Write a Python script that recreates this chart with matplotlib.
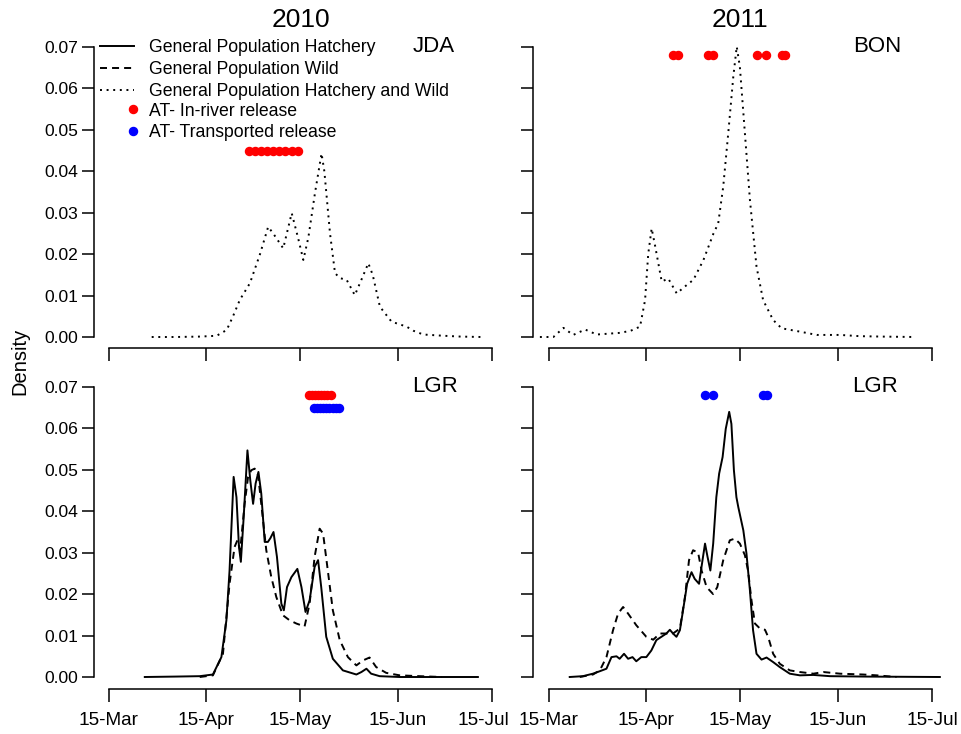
"""
Плотность распределения времени прохода: 2010 (JDA, LGR) и 2011 (BON, LGR)
"""

import matplotlib
matplotlib.use("Agg")
import matplotlib.pyplot as plt
import matplotlib.transforms as mtransforms
from matplotlib.lines import Line2D

plt.rcParams["font.family"] = ["Liberation Sans", "DejaVu Sans"]

# ── Данные (ось X — день года) ────────────────────────────────────────────

TICK_DAYS   = [74, 105, 135, 166, 196]
TICK_LABELS = ["15-Mar", "15-Apr", "15-May", "15-Jun", "15-Jul"]
Y_TICKS     = [0.00, 0.01, 0.02, 0.03, 0.04, 0.05, 0.06, 0.07]
Y_LABELS    = ["0.00", "0.01", "0.02", "0.03", "0.04", "0.05", "0.06", "0.07"]

# 2010 JDA: hatchery + wild
jda10_day = [87.6, 95, 103, 108.3, 111.5, 113.5, 115.7, 118.9, 122.1, 124.7,
             126.3, 129.5, 132.2, 134.2, 135.9, 137.5, 139.6, 141.7, 142.6,
             144.4, 146, 147.6, 149.7, 152.3, 154.5, 156.6, 158, 160.3, 164,
             168.8, 171, 174.1, 180.5, 186, 192.7]
jda10_hw  = [0.0, 0.0, 0.0001, 0.0003, 0.0017, 0.005, 0.009, 0.013, 0.020,
             0.0266, 0.025, 0.0214, 0.0299, 0.024, 0.0186, 0.024, 0.0347,
             0.0443, 0.040, 0.025, 0.0154, 0.0142, 0.0138, 0.0101, 0.014,
             0.0178, 0.015, 0.0073, 0.0037, 0.0025, 0.0015, 0.0006, 0.0003,
             0.0001, 0.0]
jda10_inriver_day = [118.6, 120.5, 122.5, 124.4, 126.3, 128.3, 130.2, 132.2, 134.1]
jda10_inriver_lvl = 0.045

# 2011 BON: hatchery + wild
bon11_day = [71.1, 75.4, 78.6, 81.7, 85.5, 89.2, 96.6, 100, 103, 104.6, 105.6,
             106.7, 107.8, 109.9, 112, 114.7, 116.8, 120, 123.2, 126.4, 127.9,
             129.5, 131.1, 132.7, 133.8, 134.8, 136.4, 138, 140.1, 142.2,
             145.4, 148.1, 153.9, 159.3, 166.7, 173, 180, 190.6]
bon11_hw  = [0.0, 0.0, 0.0022, 0.0005, 0.0018, 0.0006, 0.001, 0.0015, 0.0025,
             0.0089, 0.020, 0.0262, 0.022, 0.0134, 0.0141, 0.0105, 0.0119,
             0.0138, 0.0186, 0.025, 0.0274, 0.0363, 0.0492, 0.0628, 0.0701,
             0.0652, 0.0492, 0.0331, 0.017, 0.0089, 0.0041, 0.0021, 0.0013,
             0.0005, 0.0005, 0.0002, 0.0001, 0.0]
bon11_inriver_day = [113.6, 115.2, 124.7, 126.3, 140.1, 143.1, 148.1, 149.2]
bon11_inriver_lvl = 0.068

# 2010 LGR: hatchery
lgr10_day_h = [85.4, 95, 102.9, 107.1, 109.8, 111.4, 112.4, 113.7, 114.6,
               115.4, 116.0, 116.9, 118.1, 119.0, 119.9, 120.7, 121.6, 122.5,
               123.6, 124.6, 125.4, 126.4, 127.5, 128.9, 129.7, 130.7, 132.1,
               134.0, 135.3, 136.6, 137.9, 139.5, 140.6, 141.6, 143.2, 145.3,
               148.5, 152.8, 154.4, 156.0, 157.5, 160.2, 166.6, 180, 191.5]
lgr10_h     = [0.0, 0.0001, 0.0002, 0.0006, 0.0048, 0.0137, 0.0257, 0.0483,
               0.0434, 0.0314, 0.0278, 0.0386, 0.0547, 0.0475, 0.0418, 0.0467,
               0.0495, 0.0443, 0.0326, 0.0326, 0.0335, 0.035, 0.029, 0.0177,
               0.0161, 0.0217, 0.0241, 0.0261, 0.0217, 0.0157, 0.0185, 0.0266,
               0.0282, 0.0217, 0.0097, 0.0044, 0.0016, 0.0006, 0.0012, 0.002,
               0.0008, 0.0002, 0.0, 0.0, 0.0]
# 2010 LGR: wild
lgr10_day_w = [102.9, 107.1, 110.3, 112.4, 114.0, 114.9, 115.8, 117.2, 118.3,
               119.3, 120.4, 121.5, 122.5, 124.1, 125.7, 127.3, 129.4, 131.5,
               133.7, 136.3, 137.9, 139.5, 141.1, 142.2, 143.7, 145.3, 147.5,
               150.1, 152.8, 154.9, 157.0, 159.1, 162.3, 166.6, 173.0, 180]
lgr10_w     = [0.0, 0.0004, 0.0056, 0.0225, 0.0314, 0.033, 0.0306, 0.0418,
               0.0483, 0.0499, 0.0503, 0.0487, 0.0418, 0.0306, 0.0241, 0.0193,
               0.0149, 0.0137, 0.0129, 0.0122, 0.0177, 0.029, 0.0358, 0.0346,
               0.0257, 0.0161, 0.0089, 0.0048, 0.0028, 0.004, 0.0047, 0.0024,
               0.001, 0.0004, 0.0002, 0.0]
lgr10_inriver_day = [137.6, 138.6, 139.6, 140.6, 141.6, 142.6, 143.6, 144.6]
lgr10_inriver_lvl = 0.068
lgr10_transp_day  = [139.2, 140.2, 141.2, 142.2, 143.2, 144.2, 145.2, 146.2, 147.2]
lgr10_transp_lvl  = 0.065

# 2011 LGR: hatchery
lgr11_day_h = [80.6, 84.8, 88.0, 90.2, 92.3, 93.9, 95.5, 96.5, 97.9, 99.2,
               100.6, 101.8, 103.4, 105.0, 106.6, 108.2, 109.8, 111.4, 112.5,
               113.5, 114.6, 115.7, 116.7, 118.0, 119.4, 120.4, 121.8, 122.9,
               123.7, 124.5, 125.4, 126.3, 127.3, 128.2, 129.3, 130.3, 131.4,
               132.1, 132.9, 133.7, 134.3, 135.9, 136.9, 138.0, 139.0, 140.1,
               141.7, 143.3, 145.4, 147.5, 150.7, 153.9, 158.2, 163.5, 175, 198.5]
lgr11_h     = [0.0, 0.0002, 0.0008, 0.0014, 0.002, 0.0048, 0.005, 0.0044,
               0.0056, 0.0044, 0.0048, 0.0038, 0.0048, 0.0048, 0.0064, 0.0089,
               0.0097, 0.0105, 0.0114, 0.0105, 0.0097, 0.0113, 0.0161, 0.0225,
               0.0253, 0.0237, 0.0225, 0.0282, 0.0322, 0.029, 0.0257, 0.0322,
               0.0434, 0.0491, 0.0531, 0.0599, 0.064, 0.0611, 0.0499, 0.0434,
               0.041, 0.0354, 0.0298, 0.0209, 0.0113, 0.0056, 0.0042, 0.0047,
               0.0036, 0.0024, 0.0008, 0.0004, 0.0005, 0.0002, 0.0001, 0.0]
# 2011 LGR: wild
lgr11_day_w = [83.8, 88.0, 90.2, 92.3, 94.4, 96.0, 97.6, 99.2, 101.8, 105.0,
               107.2, 109.3, 111.4, 113.5, 115.7, 117.3, 118.6, 119.9, 121.5,
               122.6, 124.2, 126.3, 127.6, 129.5, 131.6, 133.2, 134.8, 136.4,
               137.4, 138.5, 139.6, 141.2, 142.8, 143.8, 145.4, 147.5, 150.7,
               153.9, 158.2, 161.4, 166.7, 174.1, 178.4, 184.7]
lgr11_w     = [0.0, 0.0006, 0.0016, 0.0048, 0.0113, 0.0153, 0.0169, 0.0153,
               0.0125, 0.0097, 0.009, 0.0105, 0.0105, 0.0105, 0.0117, 0.0193,
               0.0282, 0.0306, 0.030, 0.0257, 0.0217, 0.020, 0.0217, 0.0282,
               0.033, 0.0334, 0.0322, 0.0294, 0.0257, 0.0185, 0.0129, 0.0117,
               0.0114, 0.0097, 0.0056, 0.0032, 0.0016, 0.0012, 0.0008, 0.0012,
               0.0008, 0.0006, 0.0004, 0.0]
lgr11_transp_day = [123.6, 126.3, 142.2, 143.3]
lgr11_transp_lvl = 0.068

# ── Оформление ────────────────────────────────────────────────────────────

W, H = 962, 734
LW = 1.4
DASHED = (0, (3.6, 2.6))
DOTTED = (0, (1.0, 2.4))
RED, BLUE = "#ff0000", "#0000ff"
DOT_MS = 5.8


def px_box(x0, y0, x1, y1):
    """Прямоугольник в пикселях -> доли фигуры."""
    return [x0 / W, 1 - y1 / H, (x1 - x0) / W, (y1 - y0) / H]


def style_axis(ax, xlim, ylim, show_x, show_y):
    ax.set_xlim(*xlim)
    ax.set_ylim(*ylim)
    for s in ("top", "right"):
        ax.spines[s].set_visible(False)
    ax.spines["left"].set_bounds(0, 0.07)
    ax.spines["bottom"].set_bounds(TICK_DAYS[0], TICK_DAYS[-1])
    for s in ("left", "bottom"):
        ax.spines[s].set_linewidth(1.1)
    ax.set_xticks(TICK_DAYS)
    ax.set_xticklabels(TICK_LABELS if show_x else [""] * len(TICK_DAYS))
    ax.set_yticks(Y_TICKS)
    ax.set_yticklabels(Y_LABELS if show_y else [""] * len(Y_TICKS))
    ax.tick_params(axis="x", length=9.5, width=1.1, pad=7, labelsize=13.7)
    ax.tick_params(axis="y", length=8.5, width=1.1, pad=3, labelsize=12.6)
    ax.patch.set_alpha(0)


fig = plt.figure(figsize=(W / 100, H / 100), dpi=100)

top_ylim = (-11 / 4143, 0.07 + 7 / 4143)
bot_ylim = (-12 / 4143, 0.07 + 7 / 4143)
left_xlim = (74 - 15 / 3.14, 196 + 8 / 3.14)
right_xlim = (74 - 16 / 3.14, 196 + 13 / 3.14)

ax1 = fig.add_axes(px_box(94, 40, 500, 348))
ax2 = fig.add_axes(px_box(533, 40, 945, 348))
ax3 = fig.add_axes(px_box(94, 380, 500, 689))
ax4 = fig.add_axes(px_box(533, 380, 945, 689))

style_axis(ax1, left_xlim, top_ylim, False, True)
style_axis(ax2, right_xlim, top_ylim, False, False)
style_axis(ax3, left_xlim, bot_ylim, True, True)
style_axis(ax4, right_xlim, bot_ylim, True, False)

# подпись "15-Jul" слева чуть сдвинута, чтобы не слипалась с "15-Mar"
last_lbl = ax3.get_xticklabels()[-1]
last_lbl.set_transform(last_lbl.get_transform() +
                       mtransforms.ScaledTranslation(-9 / 100, 0, fig.dpi_scale_trans))

# 2010 JDA
ax1.plot(jda10_day, jda10_hw, color="black", lw=LW, ls=DOTTED)
ax1.plot(jda10_inriver_day, [jda10_inriver_lvl] * len(jda10_inriver_day),
         ls="none", marker="o", color=RED, ms=DOT_MS)

# 2011 BON
ax2.plot(bon11_day, bon11_hw, color="black", lw=LW, ls=DOTTED)
ax2.plot(bon11_inriver_day, [bon11_inriver_lvl] * len(bon11_inriver_day),
         ls="none", marker="o", color=RED, ms=DOT_MS)

# 2010 LGR
ax3.plot(lgr10_day_w, lgr10_w, color="black", lw=LW, ls=DASHED)
ax3.plot(lgr10_day_h, lgr10_h, color="black", lw=LW, ls="-")
ax3.plot(lgr10_inriver_day, [lgr10_inriver_lvl] * len(lgr10_inriver_day),
         ls="none", marker="o", color=RED, ms=DOT_MS)
ax3.plot(lgr10_transp_day, [lgr10_transp_lvl] * len(lgr10_transp_day),
         ls="none", marker="o", color=BLUE, ms=DOT_MS)

# 2011 LGR
ax4.plot(lgr11_day_w, lgr11_w, color="black", lw=LW, ls=DASHED)
ax4.plot(lgr11_day_h, lgr11_h, color="black", lw=LW, ls="-")
ax4.plot(lgr11_transp_day, [lgr11_transp_lvl] * len(lgr11_transp_day),
         ls="none", marker="o", color=BLUE, ms=DOT_MS)

# Подписи
fig.text(301 / W, 1 - 20 / H, "2010", ha="center", va="center", fontsize=19)
fig.text(740 / W, 1 - 20 / H, "2011", ha="center", va="center", fontsize=19)
fig.text(20 / W, 1 - 361 / H, "Density", rotation=90, ha="center",
         va="center", fontsize=14.5)
for x, y, name in [(455, 47, "JDA"), (901, 47, "BON"),
                   (458, 387, "LGR"), (898, 387, "LGR")]:
    fig.text(x / W, 1 - y / H, name, ha="right", va="center", fontsize=16)

# Легенда
line_handles = [Line2D([], [], color="black", lw=LW, ls="-"),
                Line2D([], [], color="black", lw=LW, ls=DASHED),
                Line2D([], [], color="black", lw=LW, ls=DOTTED)]
line_labels = ["General Population Hatchery", "General Population Wild",
               "General Population Hatchery and Wild"]
fig.legend(line_handles, line_labels, loc="upper left",
           bbox_to_anchor=(100 / W, 1 - 39.5 / H), frameon=False,
           borderpad=0, borderaxespad=0, fontsize=12.7,
           handlelength=1.9, handletextpad=0.9, labelspacing=0.27)

dot_handles = [Line2D([], [], ls="none", marker="o", color=RED, ms=DOT_MS),
               Line2D([], [], ls="none", marker="o", color=BLUE, ms=DOT_MS)]
dot_labels = ["AT- In-river release", "AT- Transported release"]
fig.legend(dot_handles, dot_labels, loc="upper left",
           bbox_to_anchor=(127 / W, 1 - 102.5 / H), frameon=False,
           borderpad=0, borderaxespad=0, fontsize=12.7,
           handlelength=0.7, handletextpad=0.55, labelspacing=0.27)

fig.savefig("out.png", dpi=100, facecolor="white")
